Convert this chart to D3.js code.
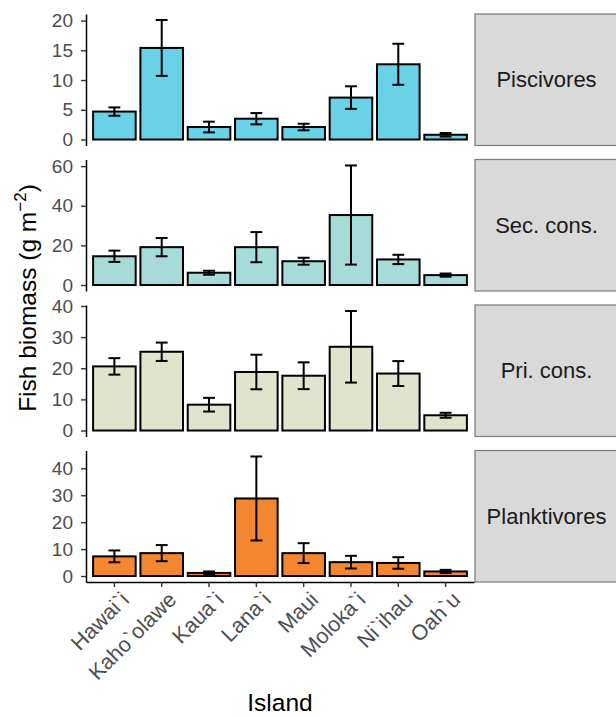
<!DOCTYPE html>
<html>
<head>
<meta charset="utf-8">
<script src="https://cdn.jsdelivr.net/npm/d3@7"></script>
<style>
  body { margin: 0; background: #fff; }
  svg text { font-family: "Liberation Sans", Arial, sans-serif; }
</style>
</head>
<body>
<div id="plot"></div>
<script>
// data: mean biomass and standard error per island
var islands = ["Hawai`i", "Kaho`olawe", "Kaua`i", "Lana`i", "Maui", "Moloka`i", "Ni`ihau", "Oah`u"];
var groups = ["Piscivores", "Sec. cons.", "Pri. cons.", "Planktivores"];
var groupColors = ["#69D2E7", "#A7DBD8", "#E0E4CC", "#F38630"];

var piscMean = [4.7, 15.4, 2.1, 3.5, 2.1, 7.05, 12.65, 0.8];
var piscSE   = [0.7, 4.7, 0.9, 0.95, 0.55, 1.9, 3.45, 0.3];
var secMean  = [14.5, 19.1, 6.2, 19.1, 12.0, 35.3, 12.9, 5.0];
var secSE    = [2.85, 4.6, 1.0, 7.6, 1.75, 25.0, 2.35, 0.8];
var priMean  = [20.6, 25.3, 8.3, 18.8, 17.6, 26.9, 18.3, 4.9];
var priSE    = [2.65, 2.95, 2.2, 5.55, 4.3, 11.5, 4.0, 0.8];
var plankMean = [7.3, 8.5, 1.15, 28.8, 8.5, 5.15, 4.85, 1.7];
var plankSE   = [2.2, 3.0, 0.55, 15.6, 3.7, 2.35, 2.15, 0.6];

var piscTicks = [0, 5, 10, 15, 20];
var secTicks = [0, 20, 40, 60];
var priTicks = [0, 10, 20, 30, 40];
var plankTicks = [0, 10, 20, 30, 40];

var means = [piscMean, secMean, priMean, plankMean];
var ses = [piscSE, secSE, priSE, plankSE];
var ticks = [piscTicks, secTicks, priTicks, plankTicks];

var W = 616, H = 717;
var left = 86, right = 474;
var top0 = 14, panelH = 131.5, gap = 14;
var stripX = 475, stripW = 143;

var svg = d3.select("#plot").append("svg").attr("width", W).attr("height", H);

var x = d3.scaleBand().domain(islands).range([left, right]).paddingInner(0.1).paddingOuter(0.15);
var step = x.step();
var capHalf = step * 0.125;

groups.forEach(function(g, gi) {
  var y0 = top0 + gi * (panelH + gap);
  var rows = islands.map(function(d, i) {
    return { island: d, m: means[gi][i], se: ses[gi][i] };
  });
  var ymax = d3.max(rows, function(d) { return d.m + d.se; });
  var y = d3.scaleLinear()
    .domain([-0.05 * ymax, ymax * 1.05])
    .range([y0 + panelH, y0]);

  var panel = svg.append("g").attr("class", "panel");

  panel.selectAll("rect.bar").data(rows).enter().append("rect")
    .attr("class", "bar")
    .attr("x", function(d) { return x(d.island); })
    .attr("width", x.bandwidth())
    .attr("y", function(d) { return y(d.m); })
    .attr("height", function(d) { return y(0) - y(d.m); })
    .style("fill", groupColors[gi])
    .style("stroke", "#000")
    .style("stroke-width", 2);

  var eb = panel.selectAll("g.err").data(rows).enter().append("g").attr("class", "err")
    .style("stroke", "#000").style("stroke-width", 2).style("fill", "none");
  eb.append("line")
    .attr("x1", function(d) { return x(d.island) + x.bandwidth() / 2; })
    .attr("x2", function(d) { return x(d.island) + x.bandwidth() / 2; })
    .attr("y1", function(d) { return y(d.m - d.se); })
    .attr("y2", function(d) { return y(d.m + d.se); });
  eb.append("line")
    .attr("x1", function(d) { return x(d.island) + x.bandwidth() / 2 - capHalf; })
    .attr("x2", function(d) { return x(d.island) + x.bandwidth() / 2 + capHalf; })
    .attr("y1", function(d) { return y(d.m + d.se); })
    .attr("y2", function(d) { return y(d.m + d.se); });
  eb.append("line")
    .attr("x1", function(d) { return x(d.island) + x.bandwidth() / 2 - capHalf; })
    .attr("x2", function(d) { return x(d.island) + x.bandwidth() / 2 + capHalf; })
    .attr("y1", function(d) { return y(d.m - d.se); })
    .attr("y2", function(d) { return y(d.m - d.se); });

  var yAxis = svg.append("g")
    .attr("transform", "translate(" + left + ",0)")
    .call(d3.axisLeft(y).tickValues(ticks[gi]).tickSize(5).tickSizeOuter(0).tickPadding(8));
  yAxis.select(".domain").style("stroke", "#000").style("stroke-width", 1.5);
  yAxis.selectAll(".tick line").style("stroke", "#333").style("stroke-width", 1.4);
  yAxis.selectAll(".tick text").style("fill", "#4D4D4D").style("font-size", "19px")
    .style("font-family", "'Liberation Sans', Arial, sans-serif");

  // facet strip
  svg.append("rect")
    .attr("x", stripX).attr("y", y0)
    .attr("width", stripW).attr("height", panelH)
    .style("fill", "#D9D9D9").style("stroke", "#7A7A7A").style("stroke-width", 1.2);
  svg.append("text")
    .attr("x", stripX + stripW / 2).attr("y", y0 + panelH / 2)
    .attr("dy", "0.35em").attr("text-anchor", "middle")
    .style("font-size", "22px").style("fill", "#1A1A1A")
    .text(g);

  if (gi === groups.length - 1) {
    var xAxis = svg.append("g")
      .attr("transform", "translate(0," + (y0 + panelH) + ")")
      .call(d3.axisBottom(x).tickSize(5).tickSizeOuter(0));
    xAxis.select(".domain").style("stroke", "#000").style("stroke-width", 1.5);
    xAxis.selectAll(".tick line").style("stroke", "#333").style("stroke-width", 1.4);
    xAxis.selectAll(".tick text")
      .attr("x", 0).attr("y", 0).attr("dy", 0)
      .attr("text-anchor", "end")
      .attr("transform", "translate(16,19) rotate(-45)")
      .style("fill", "#4D4D4D").style("font-size", "21.5px")
      .style("font-family", "'Liberation Sans', Arial, sans-serif");
  }
});

// axis titles
var midY = top0 + (4 * panelH + 3 * gap) / 2;
var yTitle = svg.append("text")
  .attr("transform", "translate(36," + midY + ") rotate(-90)")
  .attr("text-anchor", "middle")
  .style("font-size", "24.5px").style("fill", "#000");
yTitle.append("tspan").text("Fish biomass (g m");
yTitle.append("tspan").attr("dy", -10).style("font-size", "17px").text("\u22122");
yTitle.append("tspan").attr("dy", 10).text(")");

svg.append("text")
  .attr("x", (left + right) / 2).attr("y", 711)
  .attr("text-anchor", "middle")
  .style("font-size", "24.5px").style("fill", "#000")
  .text("Island");
</script>
</body>
</html>
